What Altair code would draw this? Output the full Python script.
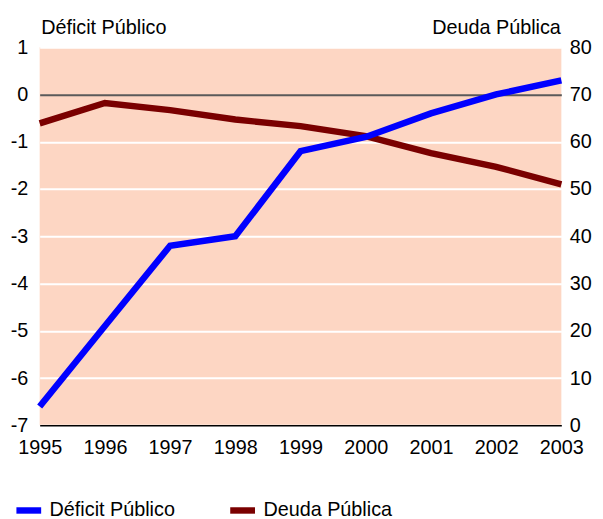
import altair as alt
import pandas as pd

years = [1995, 1996, 1997, 1998, 1999, 2000, 2001, 2002, 2003]
deficit = [-6.6, -4.9, -3.2, -3.0, -1.2, -0.9, -0.4, 0.0, 0.3]
deuda = [63.9, 68.2, 66.7, 64.7, 63.3, 61.2, 57.6, 54.7, 51.0]
series = ["Déficit Público", "Deuda Pública"]
colors = ["#0000ff", "#7a0000"]
left_ticks = [-7, -6, -5, -4, -3, -2, -1, 0, 1]
right_ticks = [0, 10, 20, 30, 40, 50, 60, 70, 80]

FONT = "Liberation Sans"
FS = 20

df = pd.DataFrame({
    "year": years * 2,
    "serie": [series[0]] * len(years) + [series[1]] * len(years),
    "valor": deficit + deuda,
})

x = alt.X(
    "year:Q",
    scale=alt.Scale(domain=[years[0], years[-1]], nice=False, zero=False),
    axis=alt.Axis(values=years, format="d", title=None, grid=False, ticks=False,
                  domain=True, domainColor="black", domainWidth=1.5,
                  labelFontSize=FS, labelFont=FONT, labelColor="black",
                  labelPadding=12, labelFlush=False, labelOverlap=False),
)

color = alt.Color(
    "serie:N",
    scale=alt.Scale(domain=series, range=colors),
    legend=alt.Legend(
        title=None, orient="none", legendX=-27, legendY=452,
        direction="horizontal", symbolType="stroke", symbolSize=625,
        symbolStrokeWidth=6.5, labelFontSize=FS, labelFont=FONT,
        labelColor="black", labelOffset=5, columnPadding=42, padding=0,
    ),
)

base = alt.Chart(df)

deuda_line = base.transform_filter(alt.datum.serie == series[1]).mark_line(
    strokeWidth=6.5
).encode(
    x=x,
    y=alt.Y("valor:Q", scale=alt.Scale(domain=[0, 80], nice=False),
            axis=alt.Axis(orient="right", values=right_ticks, grid=False, ticks=False,
                          domain=False, labelFontSize=FS, labelFont=FONT,
                          labelColor="black", labelPadding=8,
                          title="Deuda Pública", titleAngle=0, titleAlign="right",
                          titleBaseline="alphabetic", titleX=-1, titleY=-14,
                          titleFont=FONT, titleFontSize=FS, titleFontWeight="normal",
                          titleColor="black")),
    color=color,
)

deficit_line = base.transform_filter(alt.datum.serie == series[0]).mark_line(
    strokeWidth=6.5
).encode(
    x=x,
    y=alt.Y("valor:Q", scale=alt.Scale(domain=[-7, 1], nice=False, zero=False),
            axis=alt.Axis(orient="left", values=left_ticks, grid=True,
                          labelExpr="'' + datum.value",
                          gridColor=alt.condition("datum.value === 0", alt.value("#5a5a5a"), alt.value("white")),
                          gridWidth=2, ticks=False, domain=False,
                          labelFontSize=FS, labelFont=FONT, labelColor="black",
                          labelPadding=12,
                          title="Déficit Público", titleAngle=0, titleAlign="left",
                          titleBaseline="alphabetic", titleX=1, titleY=-14,
                          titleFont=FONT, titleFontSize=FS, titleFontWeight="normal",
                          titleColor="black")),
    color=color,
)

chart = alt.layer(deuda_line, deficit_line).resolve_scale(y="independent").properties(
    width=527, height=382,
    padding={"left": 32, "top": 37, "right": 34, "bottom": 92},
    autosize=alt.AutoSizeParams(type="none"),
).configure(font=FONT).configure_view(fill="#fdd6c3", stroke=None)

chart.save("out.html", embed_options={"renderer": "svg", "actions": False})
